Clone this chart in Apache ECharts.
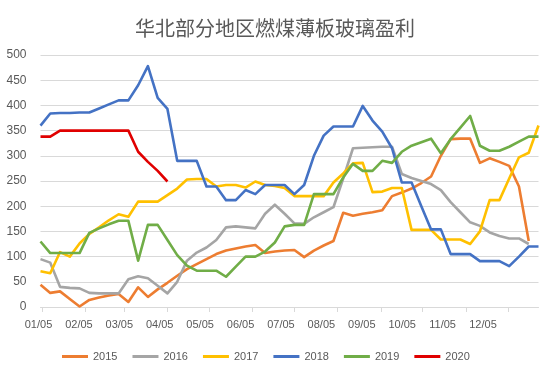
<!DOCTYPE html>
<html>
<head>
<meta charset="utf-8">
<script src="https://cdn.jsdelivr.net/npm/echarts@6/dist/echarts.min.js"></script>
<style>
html,body{margin:0;padding:0;background:#fff;}
#chart{width:550px;height:372px;}
</style>
</head>
<body>
<div id="chart"></div>
<script>
// ---- data ----
const titleText = '华北部分地区燃煤薄板玻璃盈利';
const seriesNames = ['2015', '2016', '2017', '2018', '2019', '2020'];
const monthLabels = ['01/05','02/05','03/05','04/05','05/05','06/05','07/05','08/05','09/05','10/05','11/05','12/05'];
// day-of-year of each label date (tick marks)
const monthTickDays = [5, 36, 64, 95, 125, 156, 186, 217, 248, 278, 309, 339];
// weekly observations: first observation day-of-year, step in days
const firstDay = 4;
const stepDays = 7;

const v2015 = [44,28,31,16,1,14,19,23,26,10,39,20,35,48,62,75,85,95,105,112,116,120,123,107,110,112,113,99,112,122,131,187,181,185,188,192,220,227,235,246,259,300,333,334,334,286,295,288,280,239,131];
const v2016 = [95,88,40,38,37,28,27,27,27,55,61,57,42,27,50,92,108,118,133,158,160,158,156,185,203,185,166,165,178,188,198,255,315,316,317,318,318,264,256,250,244,232,208,188,168,161,148,141,136,136,125];
const v2017 = [71,67,109,100,126,145,158,172,184,179,209,209,209,222,235,253,254,254,239,242,242,237,249,242,240,236,220,220,220,220,247,265,285,286,228,229,236,236,153,153,153,134,134,134,125,150,212,212,255,297,306,360];
const v2018 = [360,384,385,385,386,386,394,402,410,410,440,478,415,393,290,290,290,239,239,212,212,232,224,242,242,242,224,242,300,340,358,358,358,399,370,348,315,247,247,200,154,154,105,105,105,91,91,91,81,100,120,120];
const v2019 = [130,107,107,107,107,147,156,164,171,171,92,163,163,133,103,82,72,72,72,60,80,100,100,110,128,160,163,163,224,224,224,257,284,270,270,290,286,308,320,327,334,305,333,356,379,320,310,310,318,328,338,338];
const v2020 = [338,338,350,350,350,350,350,350,350,350,308,288,270,249];

const allValues = [v2015, v2016, v2017, v2018, v2019, v2020];
const colors = ['#ED7D31', '#A5A5A5', '#FFC000', '#4472C4', '#70AD47', '#E00000'];

// ---- chart ----
const textColor = '#595959';
const gridColor = '#D9D9D9';
const fontNum = 'Liberation Sans, Arial, sans-serif';

function toPoints(vals) {
  return vals.map((v, i) => [firstDay + stepDays * i, v]);
}

const chart = echarts.init(document.getElementById('chart'), null, {renderer: 'canvas'});

const option = {
  animation: false,
  backgroundColor: '#ffffff',
  title: {
    text: titleText,
    left: 'center',
    top: 13,
    textStyle: {
      fontFamily: 'Noto Sans CJK SC, sans-serif',
      fontSize: 20,
      fontWeight: 'normal',
      color: textColor
    }
  },
  legend: {
    data: seriesNames,
    left: 57,
    top: 346,
    itemWidth: 26,
    itemHeight: 3,
    itemGap: 15,
    icon: 'rect',
    textStyle: { fontFamily: fontNum, fontSize: 11, color: textColor }
  },
  grid: [
    { left: 40.5, right: 11.5, top: 55, bottom: 65 },
    { left: 38.5, right: 67, top: 55, bottom: 65 }
  ],
  xAxis: [
    {
      type: 'value',
      gridIndex: 0,
      min: 4,
      max: 361,
      axisLine: { show: true, lineStyle: { color: gridColor, width: 1 } },
      axisTick: { show: true, customValues: monthTickDays, length: 5, lineStyle: { color: gridColor } },
      axisLabel: { show: false },
      splitLine: { show: false }
    },
    {
      type: 'value',
      gridIndex: 1,
      min: 0,
      max: monthLabels.length - 1,
      interval: 1,
      axisLine: { show: false },
      axisTick: { show: false },
      splitLine: { show: false },
      axisLabel: {
        show: true,
        margin: 12,
        fontFamily: fontNum,
        fontSize: 11,
        color: textColor,
        formatter: (v) => monthLabels[Math.round(v)] || ''
      }
    }
  ],
  yAxis: [
    {
      type: 'value',
      gridIndex: 0,
      min: 0,
      max: 500,
      interval: 50,
      axisLine: { show: false },
      axisTick: { show: false },
      axisLabel: { margin: 14, fontFamily: fontNum, fontSize: 12, color: textColor },
      splitLine: { lineStyle: { color: gridColor, width: 1 } }
    },
    {
      type: 'value',
      gridIndex: 1,
      min: 0,
      max: 1,
      show: false
    }
  ],
  series: seriesNames.map((name, k) => ({
    name: name,
    type: 'line',
    xAxisIndex: 0,
    yAxisIndex: 0,
    data: toPoints(allValues[k]),
    showSymbol: false,
    symbol: 'none',
    lineStyle: { color: colors[k], width: 2.6, join: 'round' },
    itemStyle: { color: colors[k] },
    z: 2 + k
  }))
};

chart.setOption(option);
</script>
</body>
</html>
